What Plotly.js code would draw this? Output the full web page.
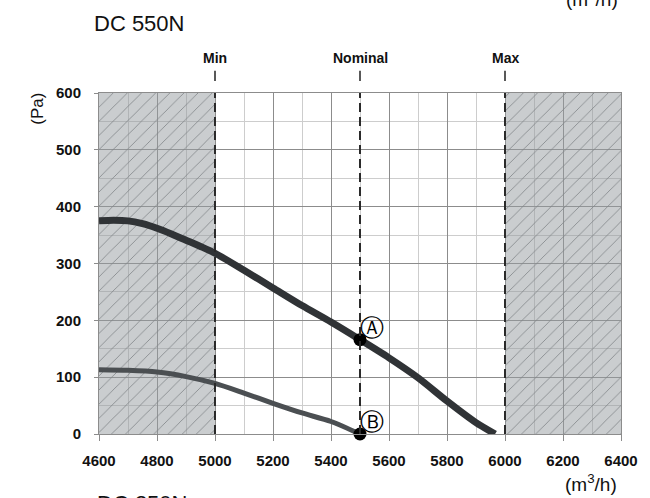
<!DOCTYPE html>
<html>
<head>
<meta charset="utf-8">
<script src="https://cdn.plot.ly/plotly-3.0.1.min.js"></script>
<style>html,body{margin:0;padding:0;background:#fff;}#chart{width:650px;height:498px;}</style>
</head>
<body>
<div id="chart"></div>
<script>
// ---- data ----
const flowA = [4600, 4650, 4700, 4750, 4800, 4850, 4900, 4950, 5000, 5100, 5200, 5300, 5400, 5500, 5600, 5700, 5800, 5900, 5966];
const pressA = [375, 376, 375, 370, 362, 352, 341, 330, 318, 288, 257, 226, 197, 166, 134, 99, 58, 20, 0];
const flowB = [4600, 4700, 4800, 4900, 5000, 5100, 5200, 5300, 5400, 5500];
const pressB = [113, 112, 109, 101, 89, 72, 54, 37, 22, 0];
const pointNames = ["A", "B"];
const pointLabels = ["\u24B6", "\u24B7"];
const pointFlow = [5500, 5500];
const pointPress = [166, 0];
const markerNames = ["Min", "Nominal", "Max"];
const markerFlow = [5000, 5500, 6000];
const zoneLo = [4600, 6000];
const zoneHi = [5000, 6400];
const xTicks = [4600, 4800, 5000, 5200, 5400, 5600, 5800, 6000, 6200, 6400];
const yTicks = [0, 100, 200, 300, 400, 500, 600];
const xRange = [4600, 6400];
const yRange = [0, 600];

const FONT = "'Liberation Sans', Arial, sans-serif";

const traces = [
  {
    type: 'bar',
    x: zoneLo.map((lo, i) => (lo + zoneHi[i]) / 2),
    y: zoneLo.map(() => yRange[1]),
    width: zoneLo.map((lo, i) => zoneHi[i] - lo),
    marker: {
      color: 'rgba(150,155,160,0.5)',
      line: {width: 0},
      pattern: {shape: '/', size: 10, solidity: 0.08, fgcolor: '#808387', bgcolor: 'rgba(150,155,160,0.5)'}
    },
    hoverinfo: 'skip',
    showlegend: false
  },
  {
    type: 'scatter', mode: 'lines',
    x: flowB, y: pressB,
    line: {color: '#4b4f52', width: 5, shape: 'spline', smoothing: 0.8},
    showlegend: false
  },
  {
    type: 'scatter', mode: 'lines',
    x: flowA, y: pressA,
    line: {color: '#303336', width: 7, shape: 'spline', smoothing: 0.8},
    showlegend: false
  },
  {
    type: 'scatter', mode: 'markers',
    x: pointFlow, y: pointPress, text: pointNames,
    marker: {color: '#000', size: 13},
    cliponaxis: false,
    showlegend: false
  }
];

const shapes = [];
const annotations = [];
markerFlow.forEach((f, i) => {
  shapes.push({type: 'line', xref: 'x', yref: 'paper', x0: f, x1: f, y0: 0, y1: 1,
    line: {color: '#2a2a2a', width: 2, dash: '9px,5px'}, layer: 'above'});
  shapes.push({type: 'line', xref: 'x', yref: 'paper', x0: f, x1: f, y0: 1.035, y1: 1.065,
    line: {color: '#222', width: 1.5}});
  annotations.push({xref: 'x', yref: 'paper', x: f, y: 1.103, text: markerNames[i], showarrow: false,
    xanchor: 'center', yanchor: 'middle', font: {family: FONT, size: 14, color: '#111', weight: 'bold'}});
});
pointFlow.forEach((f, i) => {
  annotations.push({xref: 'x', yref: 'y', x: f, y: pointPress[i], text: pointLabels[i], showarrow: false,
    xanchor: 'center', yanchor: 'middle', xshift: 12, yshift: 12,
    font: {family: "'DejaVu Sans', sans-serif", size: 24, color: '#000'}});
});
annotations.push({xref: 'paper', yref: 'paper', x: -0.118, y: 0.955, text: '(Pa)', textangle: -90, showarrow: false,
  xanchor: 'center', yanchor: 'middle', font: {family: FONT, size: 17, color: '#111'}});
annotations.push({xref: 'paper', yref: 'paper', x: (590 - 99) / 521, y: -(483 - 434) / 341, text: '(m<sup>3</sup>/h)', showarrow: false,
  xanchor: 'center', yanchor: 'middle', font: {family: FONT, size: 19, color: '#111'}});
// neighbouring chart fragments visible at the page edges
annotations.push({xref: 'paper', yref: 'paper', x: (591 - 99) / 521, y: (434 + 2) / 341, text: '(m<sup>3</sup>/h)', showarrow: false,
  xanchor: 'center', yanchor: 'middle', font: {family: FONT, size: 19, color: '#111'}});
annotations.push({xref: 'paper', yref: 'paper', x: -0.008, y: -(503 - 434) / 341, text: 'DC 250N', showarrow: false,
  xanchor: 'left', yanchor: 'middle', font: {family: FONT, size: 22, color: '#111'}});

const layout = {
  width: 650, height: 498,
  margin: {l: 99, r: 29, t: 93, b: 64},
  paper_bgcolor: '#fff', plot_bgcolor: '#fff',
  barmode: 'overlay',
  title: {text: 'DC 550N', x: 94 / 650, xanchor: 'left', xref: 'container', y: 1 - 23 / 498, yanchor: 'middle', yref: 'container',
    font: {family: FONT, size: 22, color: '#111'}},
  xaxis: {
    range: xRange, tickvals: xTicks, ticktext: xTicks.map(String),
    showgrid: true, gridcolor: '#8c8c8c', gridwidth: 1,
    minor: {dtick: 100, showgrid: true, gridcolor: '#cdcdcd', gridwidth: 1},
    ticks: 'outside', ticklen: 6, tickcolor: '#8c8c8c',
    showline: true, mirror: true, linecolor: '#8c8c8c', linewidth: 1,
    zeroline: false, fixedrange: true, ticklabelstandoff: 7,
    tickfont: {family: FONT, size: 15, color: '#111', weight: 'bold'}
  },
  yaxis: {
    range: yRange, tickvals: yTicks, ticktext: yTicks.map(String),
    showgrid: true, gridcolor: '#8c8c8c', gridwidth: 1,
    minor: {dtick: 50, showgrid: true, gridcolor: '#cdcdcd', gridwidth: 1},
    ticks: 'outside', ticklen: 4, tickcolor: '#8c8c8c',
    showline: true, mirror: true, linecolor: '#8c8c8c', linewidth: 1,
    zeroline: false, fixedrange: true, ticklabelstandoff: 10,
    tickfont: {family: FONT, size: 15, color: '#111', weight: 'bold'}
  },
  shapes: shapes,
  annotations: annotations,
  showlegend: false,
  hovermode: false
};

Plotly.newPlot('chart', traces, layout, {displayModeBar: false, staticPlot: true});
</script>
</body>
</html>
